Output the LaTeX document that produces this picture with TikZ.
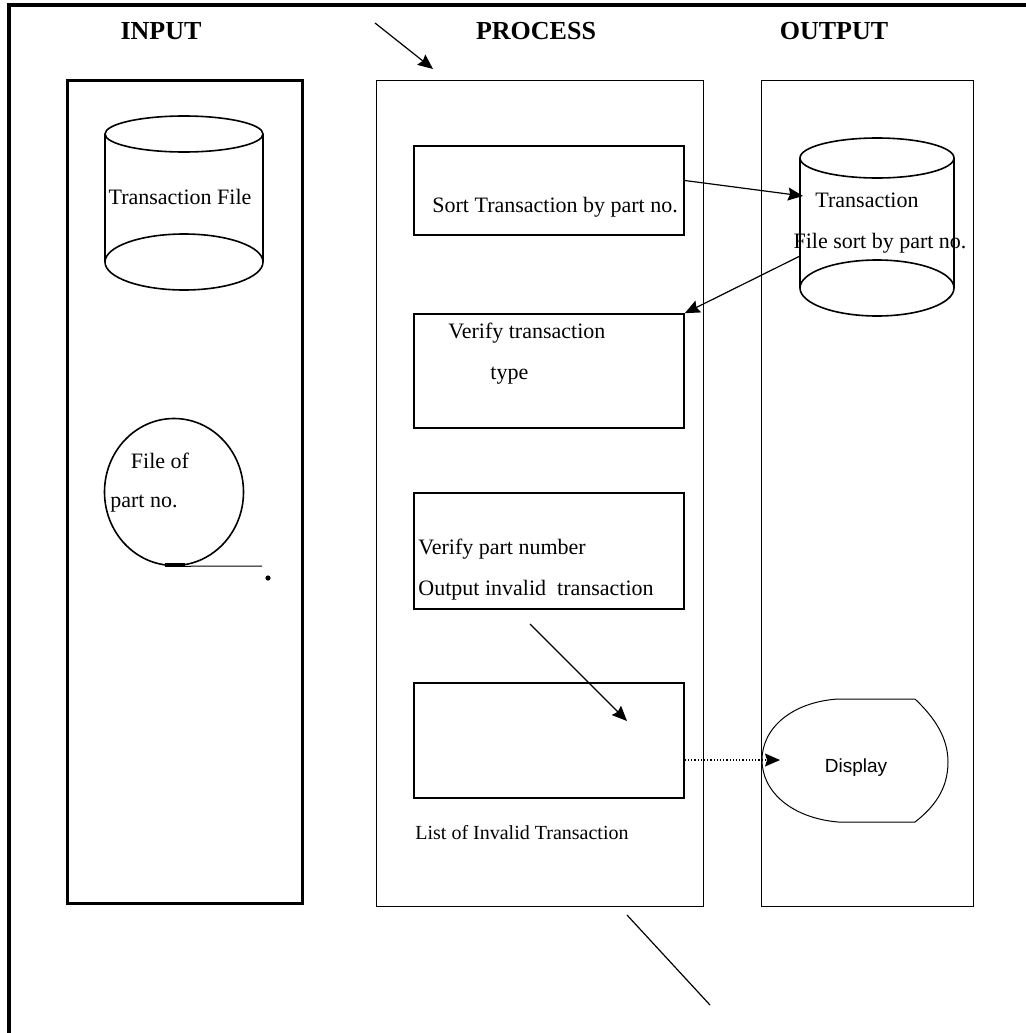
\documentclass[tikz,border=0pt]{standalone}
\usepackage{fontspec}
\setmainfont{Liberation Serif}
\newfontfamily\dispfont{Liberation Sans}
\usetikzlibrary{arrows.meta, shapes.geometric, positioning}

\begin{document}
\begin{tikzpicture}[x=0.5pt, y=-0.5pt,
    every node/.style={font=\fontsize{11}{13}\selectfont, inner sep=0pt},
    heading/.style={font=\fontsize{13}{15}\selectfont\bfseries},
    column/.style={draw, line width=0.5pt},
    procbox/.style={draw, line width=0.8pt, minimum width=135pt},
    drum/.style={line width=0.8pt},
    flow/.style={line width=0.6pt, -{Stealth[length=7.5pt, width=6.5pt, inset=1pt]}}]
  \useasboundingbox (0,0) rectangle (1026,1033);

  % frame
  \draw[line width=1.8pt] (1026,5) -- (9,5) -- (9,1033);

  % headings
  \node[heading] (hin) at (161,31) {INPUT};
  \node[heading] (hproc) at (536,31) {PROCESS};
  \node[heading] (hout) at (834,31) {OUTPUT};

  % columns
  \draw[line width=1.5pt] (67,80) rectangle (302,903);
  \draw[column] (376,80) rectangle (703,906);
  \draw[column] (761,80) rectangle (973,906);

  % input: transaction file
  \draw[drum] (105,134) -- (105,262) (263,134) -- (263,262);
  \draw[drum] (184,134) ellipse [x radius=39.5pt, y radius=9pt];
  \draw[drum] (184,262) ellipse [x radius=39.5pt, y radius=14pt];
  \node (tfile) at (180,197) {Transaction File};

  % input: file of part no.
  \node[draw, ellipse, line width=0.8pt, minimum width=69.5pt, minimum height=73.5pt] (parts) at (174,492) {};
  \node (parta) at (160,461) {File of};
  \node (partb) at (144,504) {part no.};
  \coordinate (pend) at (262,566);
  \draw[line width=2pt] (165,565) -- (185,565);
  \draw[line width=0.5pt] (parts.south) -- (pend);
  \fill (268,578) circle [radius=1.3pt];

  % process boxes
  \node[procbox, minimum height=44.5pt] (sort) at (549,190.5) {};
  \node[anchor=west] (sorttxt) at (432,207) {Sort Transaction by part no.};
  \node[procbox, minimum height=57pt] (vtype) at (549,371) {};
  \node[anchor=west] (vtypea) at (448,333) {Verify transaction};
  \node[anchor=west] (vtypeb) at (490,376) {type};
  \node[procbox, minimum height=58pt] (vpart) at (549,551) {};
  \node[anchor=west] (vparta) at (418,549) {Verify part number};
  \node[anchor=west] (vpartb) at (418,590) {Output invalid\ \ transaction};
  \node[procbox, minimum height=57.5pt] (list) at (549,740.5) {};
  \node[anchor=west, font=\fontsize{10}{12}\selectfont] (listtxt) at (415,833) {List of Invalid Transaction};

  % output: sorted file
  \draw[drum] (800,158) -- (800,288) (954,158) -- (954,288);
  \draw[drum] (877,158) ellipse [x radius=38.5pt, y radius=10pt];
  \draw[drum] (877,288) ellipse [x radius=38.5pt, y radius=14pt];
  \node (sfa) at (867,200) {Transaction};
  \node (sfb) at (880,243) {File sort by part no.};
  \coordinate (sfin) at (803,196);
  \coordinate (sfout) at (800,256);

  % output: display
  \draw[line width=0.5pt] (838,699) -- (915,699)
    .. controls (935,718) and (948,738) .. (948,762)
    .. controls (948,790) and (933,808) .. (915,822) -- (838,822)
    .. controls (792,818) and (762,792) .. (762,760)
    .. controls (762,728) and (792,702) .. (838,699);
  \node[font=\dispfont\fontsize{9.5}{11}\selectfont] (disp) at (856,768) {Display};
  \coordinate (dispin) at (780,760);

  % connectors
  \coordinate (ta) at (375,23);
  \coordinate (tb) at (433,69);
  \draw[flow] (ta) -- (tb);
  \draw[flow] ([yshift=5pt]sort.east) -- (sfin);
  \draw[flow] (sfout) -- (vtype.north east);
  \coordinate (ma) at (530,624);
  \coordinate (mb) at (627,721);
  \draw[flow] (ma) -- (mb);
  \draw[flow, densely dotted] ([yshift=-9.75pt]list.east) -- (dispin);
  \coordinate (ba) at (627,915);
  \coordinate (bb) at (710,1005);
  \draw[line width=0.6pt] (ba) -- (bb);
\end{tikzpicture}
\end{document}
